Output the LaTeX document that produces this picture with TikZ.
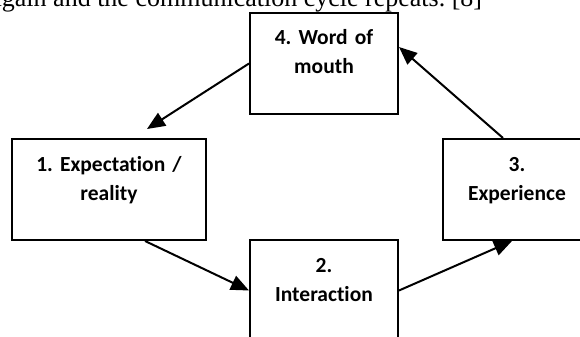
\documentclass[tikz,border=0pt]{standalone}
\usepackage{fontspec}
\setmainfont{Liberation Serif}
\newfontfamily\calib[Ligatures=NoCommon]{Carlito}
\usetikzlibrary{arrows.meta}
\frenchspacing

\tikzset{
  stage/.style={draw, line width=1pt, inner sep=0pt, align=center, text width=74pt,
    text height=16pt, text depth=34.5pt,
    font=\calib\bfseries\fontsize{10.75pt}{14.5pt}\selectfont},
  flow/.style={-{Triangle[length=9pt,width=7.5pt]}, line width=1pt}
}

\begin{document}
\begin{tikzpicture}[x=0.5pt, y=-0.5pt]
\useasboundingbox (0,0) rectangle (580,337);
\node[anchor=base west, inner sep=0pt, font=\fontsize{13pt}{15pt}\selectfont] (cont) at (-10,6) {again and the communication cycle repeats. [8]};
% the four stages, clockwise from the top
\node[stage] (mouth) at (324,63.5) {4. Word of\\mouth};
\node[stage, text width=97pt] (expect) at (109,189.5) {1. Expectation /\\reality};
\node[stage] (inter) at (324,290.5) {2.\\Interaction};
\node[stage] (exper) at (517,189.5) {3.\\Experience};
% arrows round the cycle
\draw[flow] (mouth.west) -- ([shift={(38,-9)}]expect.north);
\draw[flow] ([shift={(36,0)}]expect.south) -- (inter.west);
\draw[flow] (inter.east) -- ([shift={(-5,0)}]exper.south);
\draw[flow] ([shift={(-14,0)}]exper.north) -- ([shift={(0,-16.5)}]mouth.east);
\end{tikzpicture}
\end{document}
